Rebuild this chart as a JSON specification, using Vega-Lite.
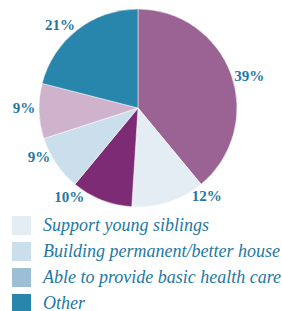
{
  "$schema": "https://vega.github.io/schema/vega-lite/v6.json",
  "width": 276,
  "height": 216,
  "padding": {"left": 0, "top": 0, "right": 6, "bottom": 95},
  "autosize": {"type": "none"},
  "background": "white",
  "config": {"font": "Liberation Serif, Times New Roman, serif"},
  "data": {
    "values": [
      {"category": "Help family income", "pct": 39, "label": "39%", "order": 1},
      {"category": "Support young siblings", "pct": 12, "label": "12%", "order": 2},
      {"category": "Pay family debts", "pct": 10, "label": "10%", "order": 3},
      {"category": "Building permanent/better house", "pct": 9, "label": "9%", "order": 4},
      {"category": "Buy land or livestock", "pct": 9, "label": "9%", "order": 5},
      {"category": "Other", "pct": 21, "label": "21%", "order": 6}
    ]
  },
  "encoding": {
    "theta": {"field": "pct", "type": "quantitative", "stack": true},
    "order": {"field": "order", "type": "quantitative"}
  },
  "layer": [
    {
      "mark": {"type": "arc", "outerRadius": 99, "stroke": "white", "strokeWidth": 0.5},
      "encoding": {
        "color": {
          "field": "category",
          "type": "nominal",
          "scale": {
            "domain": ["Help family income", "Pay family debts", "Buy land or livestock", "Support young siblings", "Building permanent/better house", "Able to provide basic health care", "Other"],
            "range": ["#9b6394", "#7d2b75", "#cfb2cb", "#e5edf4", "#cbdeeb", "#9cbfd5", "#2886ac"]
          },
          "legend": {
            "values": ["Support young siblings", "Building permanent/better house", "Able to provide basic health care", "Other"],
            "title": null,
            "orient": "none",
            "legendX": 12,
            "legendY": 216,
            "symbolType": "square",
            "symbolSize": 361,
            "symbolStrokeWidth": 0,
            "symbolOpacity": 1,
            "labelFont": "Liberation Serif, Times New Roman, serif",
            "labelFontStyle": "italic",
            "labelFontSize": 18,
            "labelColor": "#1f78a3",
            "labelOffset": 12,
            "rowPadding": 7,
            "labelLimit": 300
          }
        }
      }
    },
    {
      "mark": {"type": "text", "radius": 116, "dx": 2, "dy": 7, "font": "Liberation Serif, serif", "fontWeight": "bold", "fontSize": 15, "fill": "#1f78a3"},
      "encoding": {"text": {"condition": {"test": "datum.order == 1", "field": "label"}, "value": ""}}
    },
    {
      "mark": {"type": "text", "radius": 116, "dx": 33, "dy": -22, "font": "Liberation Serif, serif", "fontWeight": "bold", "fontSize": 15, "fill": "#1f78a3"},
      "encoding": {"text": {"condition": {"test": "datum.order == 2", "field": "label"}, "value": ""}}
    },
    {
      "mark": {"type": "text", "radius": 116, "dx": -26, "dy": -19, "font": "Liberation Serif, serif", "fontWeight": "bold", "fontSize": 15, "fill": "#1f78a3"},
      "encoding": {"text": {"condition": {"test": "datum.order == 3", "field": "label"}, "value": ""}}
    },
    {
      "mark": {"type": "text", "radius": 116, "dx": -3, "dy": -16, "font": "Liberation Serif, serif", "fontWeight": "bold", "fontSize": 15, "fill": "#1f78a3"},
      "encoding": {"text": {"condition": {"test": "datum.order == 4", "field": "label"}, "value": ""}}
    },
    {
      "mark": {"type": "text", "radius": 116, "dx": 2, "dy": -4, "font": "Liberation Serif, serif", "fontWeight": "bold", "fontSize": 15, "fill": "#1f78a3"},
      "encoding": {"text": {"condition": {"test": "datum.order == 5", "field": "label"}, "value": ""}}
    },
    {
      "mark": {"type": "text", "radius": 116, "dx": -7, "dy": 9, "font": "Liberation Serif, serif", "fontWeight": "bold", "fontSize": 15, "fill": "#1f78a3"},
      "encoding": {"text": {"condition": {"test": "datum.order == 6", "field": "label"}, "value": ""}}
    }
  ]
}
